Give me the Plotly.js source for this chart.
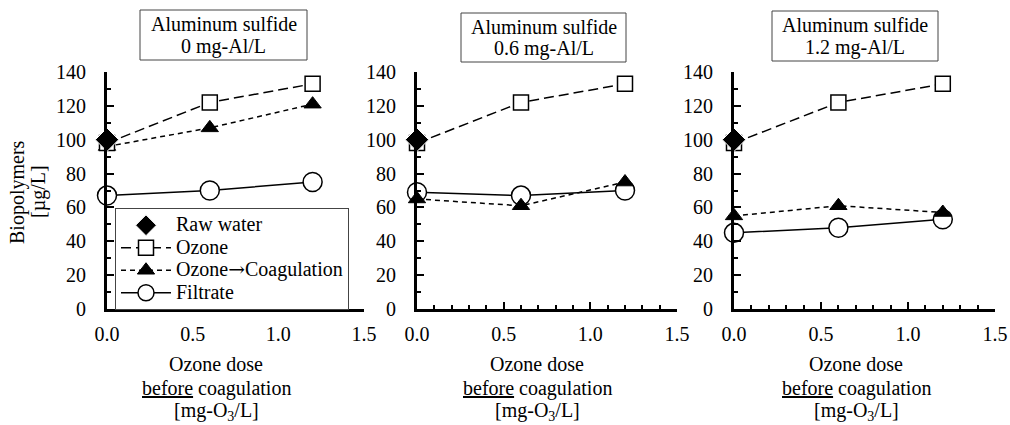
<!DOCTYPE html>
<html>
<head>
<meta charset="utf-8">
<script src="https://cdn.plot.ly/plotly-3.0.1.min.js"></script>
<style>html,body{margin:0;padding:0;background:#fff;}#chart{width:1010px;height:425px;}</style>
</head>
<body>
<div id="chart"></div>
<script>
// Data
var doses = [0.0, 0.6, 1.2];
var panelTitleLine1 = ["Aluminum sulfide", "Aluminum sulfide", "Aluminum sulfide"];
var panelTitleLine2 = ["0 mg-Al/L", "0.6 mg-Al/L", "1.2 mg-Al/L"];
var rawWaterX = [0.0];
var rawWater = [100];
var ozone_0 = [98, 122, 133];
var ozoneCoag_0 = [96, 107, 121];
var filtrate_0 = [67, 70, 75];
var ozone_06 = [98, 122, 133];
var ozoneCoag_06 = [65, 61, 75];
var filtrate_06 = [69, 67, 70];
var ozone_12 = [98, 122, 133];
var ozoneCoag_12 = [55, 61, 57];
var filtrate_12 = [45, 48, 53];
var xTickVals = [0, 0.5, 1.0, 1.5];
var xTickText = ["0.0", "0.5", "1.0", "1.5"];
var yTickVals = [0, 20, 40, 60, 80, 100, 120, 140];
var seriesNames = ["Raw water", "Ozone", "Ozone\u2192Coagulation", "Filtrate"];
var xTitleLines = ["Ozone dose", "<u>before</u> coagulation", "[mg-O<sub>3</sub>/L]"];
var yTitleLines = ["Biopolymers", "[\u00b5g/L]"];

var panels = [
  {ozone: ozone_0, coag: ozoneCoag_0, filt: filtrate_0},
  {ozone: ozone_06, coag: ozoneCoag_06, filt: filtrate_06},
  {ozone: ozone_12, coag: ozoneCoag_12, filt: filtrate_12}
];

var W = 1010, H = 425;
var xDom = [[107, 364], [417, 677], [734, 995]];
var yTop = 72, yBot = 309;
var FONT = '"Liberation Serif", "Times New Roman", serif';
var FS = 20;

// Legend label: larger text than the legend base size (keeps row spacing compact)
function legendLabel(name) {
  var parts = name.split('\u2192');
  var big = 'font-size:20px';
  if (parts.length === 1) return '<span style="' + big + '">' + name + '</span>';
  return '<span style="' + big + '">' + parts[0] + '</span>' +
    '<span style="' + big + ';font-family:DejaVu Serif">\u2192</span>' +
    '<span style="' + big + '">' + parts[1] + '</span>';
}

var traces = [];
panels.forEach(function(p, i) {
  var xa = i === 0 ? 'x' : 'x' + (i + 1);
  var ya = i === 0 ? 'y' : 'y' + (i + 1);
  var show = i === 0;
  traces.push({x: doses, y: p.filt, xaxis: xa, yaxis: ya, type: 'scatter', mode: 'lines+markers',
    name: legendLabel(seriesNames[3]), showlegend: show, legendrank: 4, cliponaxis: false,
    line: {color: '#000', width: 1.5},
    marker: {symbol: 'circle', size: 19, color: '#fff', line: {color: '#000', width: 1.5}}});
  traces.push({x: doses, y: p.coag, xaxis: xa, yaxis: ya, type: 'scatter', mode: 'lines+markers',
    name: legendLabel(seriesNames[2]), showlegend: show, legendrank: 3, cliponaxis: false,
    line: {color: '#000', width: 1.5, dash: '5px,4px'},
    marker: {symbol: 'triangle-up', size: 15, color: '#000', line: {color: '#000', width: 1}}});
  traces.push({x: doses, y: p.ozone, xaxis: xa, yaxis: ya, type: 'scatter', mode: 'lines+markers',
    name: legendLabel(seriesNames[1]), showlegend: show, legendrank: 2, cliponaxis: false,
    line: {color: '#000', width: 1.5, dash: '10px,5px'},
    marker: {symbol: 'square', size: 15, color: '#fff', line: {color: '#000', width: 1.5}}});
  traces.push({x: rawWaterX, y: rawWater, xaxis: xa, yaxis: ya, type: 'scatter', mode: 'markers',
    name: legendLabel(seriesNames[0]), showlegend: show, legendrank: 1, cliponaxis: false,
    marker: {symbol: 'diamond', size: 18, color: '#000', line: {color: '#fff', width: 1}}});
});

function xAxis(i) {
  return {
    domain: [xDom[i][0] / W, xDom[i][1] / W], anchor: i === 0 ? 'y' : 'y' + (i + 1),
    range: [0, 1.5], showgrid: false, zeroline: false, showline: true, linecolor: '#000', linewidth: 3,
    ticks: 'inside', ticklen: 7, tickwidth: 2, tickcolor: '#000',
    tickvals: xTickVals, ticktext: xTickText, ticklabelstandoff: 5,
    minor: {dtick: 0.1, tick0: 0, ticks: 'inside', ticklen: 4, tickwidth: 2, tickcolor: '#000', showgrid: false},
    tickfont: {family: FONT, size: FS, color: '#000'}, fixedrange: true
  };
}
function yAxis(i) {
  return {
    domain: [(H - yBot) / H, (H - yTop) / H], anchor: i === 0 ? 'x' : 'x' + (i + 1),
    range: [0, 140], showgrid: false, zeroline: false, showline: true, linecolor: '#000', linewidth: 3,
    ticks: 'inside', ticklen: 7, tickwidth: 2, tickcolor: '#000',
    tickvals: yTickVals, ticklabelstandoff: 14,
    minor: {dtick: 10, tick0: 0, ticks: 'inside', ticklen: 4, tickwidth: 2, tickcolor: '#000', showgrid: false},
    tickfont: {family: FONT, size: FS, color: '#000'}, fixedrange: true
  };
}

var annotations = [];
var shapes = [];
var boxes = [[140, 10, 307, 60], [461, 13, 626, 62], [772, 11, 938, 61]];
var xTitleCenters = [216, 537, 856];
var xTitleY = [364, 388, 411];
function txt(x, y, t, extra) {
  var a = {xref: 'paper', yref: 'paper', x: x / W, y: 1 - y / H, xanchor: 'center', yanchor: 'middle',
    showarrow: false, text: t, font: {family: FONT, size: FS, color: '#000'}};
  for (var k in extra) a[k] = extra[k];
  return a;
}
for (var i = 0; i < 3; i++) {
  var b = boxes[i];
  shapes.push({type: 'rect', xref: 'paper', yref: 'paper', x0: b[0] / W, x1: b[2] / W, y0: 1 - b[3] / H, y1: 1 - b[1] / H,
    line: {color: '#444', width: 1}, fillcolor: '#fff', layer: 'below'});
  var cx = (b[0] + b[2]) / 2;
  annotations.push(txt(cx, b[1] + 14, panelTitleLine1[i]));
  annotations.push(txt(cx, b[1] + 36, panelTitleLine2[i]));
  for (var k = 0; k < 3; k++) {
    annotations.push(txt(xTitleCenters[i], xTitleY[k], xTitleLines[k]));
  }
}
annotations.push(txt(17, 192, yTitleLines[0], {textangle: -90}));
annotations.push(txt(38, 192, yTitleLines[1], {textangle: -90}));

var layout = {
  width: W, height: H, margin: {l: 0, r: 0, t: 0, b: 0},
  paper_bgcolor: '#fff', plot_bgcolor: 'rgba(0,0,0,0)',
  font: {family: FONT, color: '#000'},
  showlegend: true,
  legend: {x: 115 / W, y: 1 - 208 / H, xanchor: 'left', yanchor: 'top', bgcolor: '#fff',
    bordercolor: '#444', borderwidth: 1, font: {family: FONT, size: 15, color: '#000'},
    tracegroupgap: 0, itemwidth: 50},
  xaxis: xAxis(0), yaxis: yAxis(0),
  xaxis2: xAxis(1), yaxis2: yAxis(1),
  xaxis3: xAxis(2), yaxis3: yAxis(2),
  shapes: shapes,
  annotations: annotations
};

Plotly.newPlot('chart', traces, layout, {staticPlot: true, displayModeBar: false});
</script>
</body>
</html>
